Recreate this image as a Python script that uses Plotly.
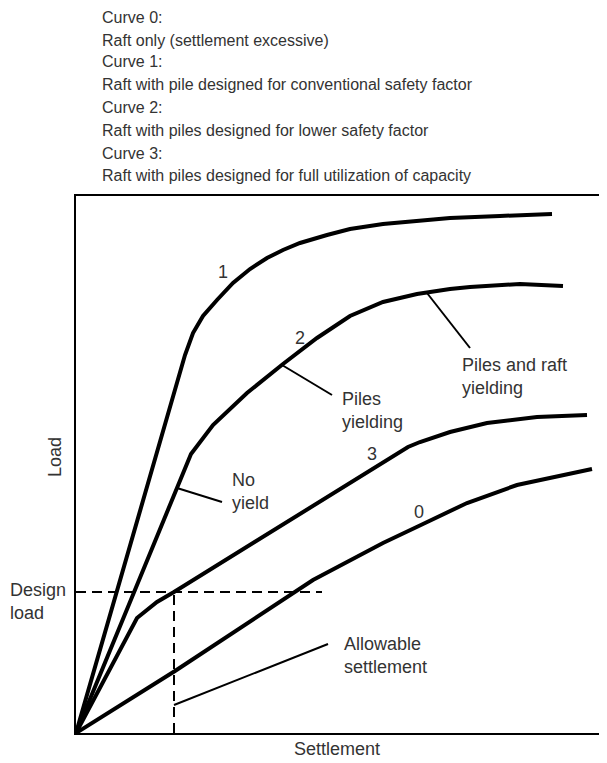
import plotly.graph_objects as go

# ---- data (settlement / load in arbitrary units) ----
settle_0 = [0, 99, 237, 307, 347, 391, 441, 516]
load_0 = [0, 62, 153, 190, 209, 230, 248, 264]

settle_1 = [0, 109, 117, 127, 141, 157, 174, 191, 207, 224, 251, 274, 307, 341, 374, 424, 476]
load_1 = [0, 378, 400, 417, 433, 450, 464, 475, 483, 490, 498, 504, 509, 512, 515, 517, 519]

settle_2 = [0, 115, 137, 171, 207, 241, 274, 307, 341, 374, 394, 444, 487]
load_2 = [0, 279, 308, 340, 369, 395, 417, 431, 439, 444, 446, 449, 447]

settle_3 = [0, 61, 81, 98, 332, 344, 374, 411, 461, 511]
load_3 = [0, 115, 131, 141, 286, 291, 301, 310, 316, 318]

design_load = 141
allowable_settlement = 98
dash_x_end = 246

header_lines = [
    "Curve 0:",
    "Raft only (settlement excessive)",
    "Curve 1:",
    "Raft with pile designed for conventional safety factor",
    "Curve 2:",
    "Raft with piles designed for lower safety factor",
    "Curve 3:",
    "Raft with piles designed for full utilization of capacity",
]

FONT = "Liberation Sans, Arial, sans-serif"
TXT = "#333333"
XR, YR = 531, 537   # axis extents

fig = go.Figure()
for sx, ly in [(settle_0, load_0), (settle_1, load_1), (settle_2, load_2), (settle_3, load_3)]:
    fig.add_trace(go.Scatter(x=sx, y=ly, mode="lines",
                             line=dict(color="black", width=4),
                             hoverinfo="skip", showlegend=False))

# dashed design lines
fig.add_trace(go.Scatter(x=[0, dash_x_end], y=[design_load, design_load], mode="lines",
                         line=dict(color="black", width=2, dash="10px,6px"),
                         showlegend=False, hoverinfo="skip"))
fig.add_trace(go.Scatter(x=[allowable_settlement, allowable_settlement], y=[0, design_load], mode="lines",
                         line=dict(color="black", width=2, dash="10px,6px"),
                         showlegend=False, hoverinfo="skip"))

# leader lines
leaders = [
    ((206, 368), (256, 338)),   # Piles yielding
    ((351, 440), (394, 385)),   # Piles and raft yielding
    ((101, 245), (146, 231)),   # No yield
    ((98, 28), (252, 89)),      # Allowable settlement
]
for (x0, y0), (x1, y1) in leaders:
    fig.add_trace(go.Scatter(x=[x0, x1], y=[y0, y1], mode="lines",
                             line=dict(color="black", width=2),
                             showlegend=False, hoverinfo="skip"))

ann = []
def add(text, x, y, xa="left", ya="middle", size=18, angle=0, paper=False):
    if paper:
        d = dict(x=x / XR, y=y / YR, xref="paper", yref="paper")
    else:
        d = dict(x=x, y=y, xref="x", yref="y")
    d.update(text=text, xanchor=xa, yanchor=ya, showarrow=False, align="left",
             textangle=angle, font=dict(family=FONT, size=size, color=TXT))
    ann.append(d)

add("1", 147, 461, xa="center")
add("2", 224, 395, xa="center")
add("3", 296, 279, xa="center")
add("0", 343, 221, xa="center")
add("Piles<br>yielding", 264, 323)
add("Piles and raft<br>yielding", 384, 357)
add("No<br>yield", 154, 242)
add("Allowable<br>settlement", 266, 78)
add("Design<br>load", -68, 132, paper=True)
add("Load", -21, 276, xa="center", angle=-90, paper=True)
add("Settlement", 261, -16, xa="center", paper=True)

header_y = [716, 693, 671, 648, 626, 603, 580, 558]
for t, yy in zip(header_lines, header_y):
    add(t, 24, yy, size=16, paper=True)

fig.update_layout(
    width=599, height=755,
    margin=dict(l=68, r=0, t=188, b=30),
    paper_bgcolor="white", plot_bgcolor="white",
    annotations=ann,
    xaxis=dict(range=[0, XR], showgrid=False, zeroline=False, showticklabels=False,
               ticks="", showline=True, linecolor="black", linewidth=2, mirror=True),
    yaxis=dict(range=[0, YR], showgrid=False, zeroline=False, showticklabels=False,
               ticks="", showline=True, linecolor="black", linewidth=2, mirror=False),
)

fig.write_html("out.html")
